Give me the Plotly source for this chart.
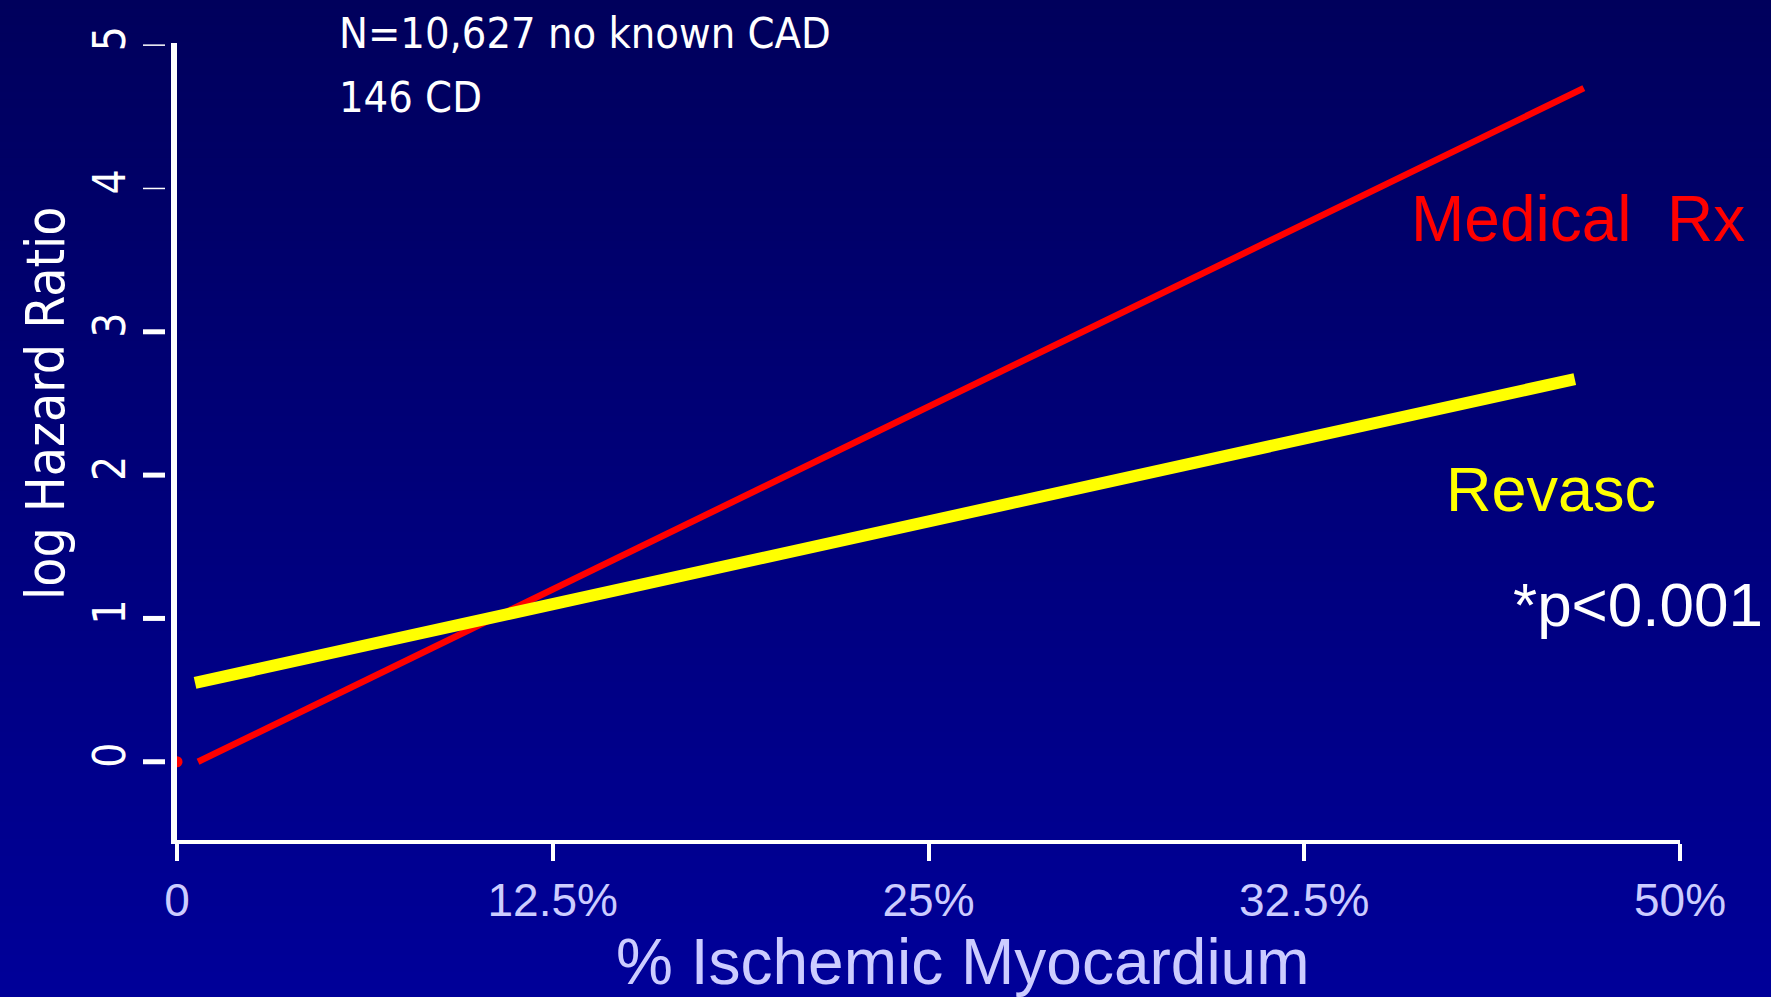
import plotly.graph_objects as go

# Data
medical_x = [0.7, 46.8]
medical_y = [0.0, 4.7]
revasc_x = [0.6, 46.5]
revasc_y = [0.55, 2.67]

x_ticks = [0, 12.5, 25, 37.5, 50]
x_labels = ['0', '12.5%', '25%', '32.5%', '50%']
y_ticks = [0, 1, 2, 3, 4, 5]
y_tick_widths = [5, 5, 5, 5, 1.5, 1.5]

W, H = 1771, 997
L, R, T, B = 177, 91, 43, 157
PW, PH = W - L - R, H - T - B

COND = 'DejaVu Sans Condensed, Liberation Sans Narrow, sans-serif'
ARIAL = 'Liberation Sans, Arial, sans-serif'
LAVENDER = '#CCCCFF'


def px_x(px):
    return (px - L) / PW


def px_y(py):
    return (H - B - py) / PH


fig = go.Figure()

fig.add_trace(go.Scatter(
    x=medical_x, y=medical_y, mode='lines',
    line=dict(color='#FF0000', width=6.5), cliponaxis=False, showlegend=False
))
fig.add_trace(go.Scatter(
    x=[0], y=[0], mode='markers',
    marker=dict(color='#FF0000', size=11), cliponaxis=False, showlegend=False
))
fig.add_trace(go.Scatter(
    x=revasc_x, y=revasc_y, mode='lines',
    line=dict(color='#FFFF00', width=12), cliponaxis=False, showlegend=False
))

# vertical gradient background, drawn as thin bands
shapes = []
n_bands = 120
top_c, bot_c = 0x5C, 0x99
for i in range(n_bands):
    blue = round(top_c + (bot_c - top_c) * (i + 0.5) / n_bands)
    shapes.append(dict(
        type='rect', xref='paper', yref='paper', layer='below',
        x0=px_x(0), x1=px_x(W),
        y0=px_y(H * (i + 1) / n_bands + 1), y1=px_y(H * i / n_bands),
        fillcolor=f'rgb(0,0,{blue})', line=dict(width=0)
    ))

# y ticks sit a little apart from the axis line
for yv, w in zip(y_ticks, y_tick_widths):
    shapes.append(dict(
        type='line', xref='paper', yref='y',
        x0=px_x(143), x1=px_x(165), y0=yv, y1=yv,
        line=dict(color='white', width=w)
    ))

annotations = [
    dict(text='N=10,627 no known CAD', x=px_x(337), y=px_y(33), xref='paper', yref='paper',
         xanchor='left', yanchor='middle', showarrow=False,
         font=dict(family=COND, size=43, color='white')),
    dict(text='146 CD', x=px_x(337), y=px_y(97), xref='paper', yref='paper',
         xanchor='left', yanchor='middle', showarrow=False,
         font=dict(family=COND, size=43, color='white')),
    dict(text='log Hazard Ratio', x=px_x(45), y=px_y(403), xref='paper', yref='paper',
         xanchor='center', yanchor='middle', textangle=-90, showarrow=False,
         font=dict(family=COND, size=53, color='white')),
    dict(text='% Ischemic Myocardium', x=px_x(963), y=px_y(962), xref='paper', yref='paper',
         xanchor='center', yanchor='middle', showarrow=False,
         font=dict(family=ARIAL, size=64, color=LAVENDER)),
    dict(text='Medical  Rx', x=46.6, y=3.79, xref='x', yref='y',
         showarrow=False, font=dict(family=ARIAL, size=64, color='#FF0000')),
    dict(text='Revasc', x=45.7, y=1.9, xref='x', yref='y',
         showarrow=False, font=dict(family=ARIAL, size=63, color='#FFFF00')),
    dict(text='*p<0.001', x=48.6, y=1.1, xref='x', yref='y',
         showarrow=False, font=dict(family=ARIAL, size=62, color='white')),
]

fig.update_layout(
    width=W, height=H,
    margin=dict(l=L, r=R, t=T, b=B, pad=0),
    paper_bgcolor='#000080',
    plot_bgcolor='rgba(0,0,0,0)',
    showlegend=False,
    shapes=shapes,
    annotations=annotations,
    xaxis=dict(
        range=[0, 50], tickvals=x_ticks, ticktext=x_labels,
        showgrid=False, zeroline=False,
        showline=True, linecolor='white', linewidth=4,
        ticks='outside', ticklen=17, tickwidth=4, tickcolor='white',
        tickfont=dict(family=ARIAL, size=46, color=LAVENDER),
    ),
    yaxis=dict(
        range=[-0.546, 5.015], tickvals=y_ticks,
        showgrid=False, zeroline=False,
        showline=True, linecolor='white', linewidth=6,
        ticks='outside', ticklen=28, tickcolor='rgba(0,0,0,0)',
        tickangle=-90,
        tickfont=dict(family=COND, size=44, color='white'),
    ),
)

fig.write_html("out.html", config={'displayModeBar': False},
               post_script="document.body.style.margin='0';")
